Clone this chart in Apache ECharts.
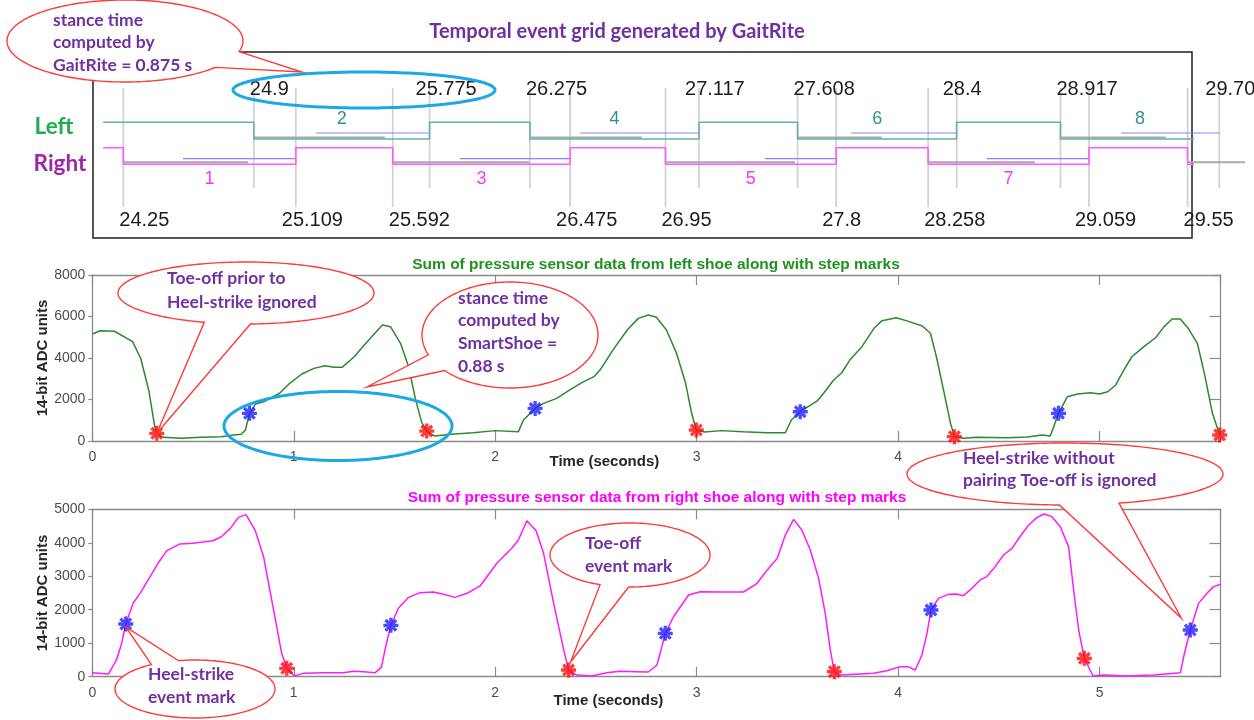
<!DOCTYPE html>
<html>
<head>
<meta charset="utf-8">
<title>Gait event detection: GaitRite vs SmartShoe</title>
<script src="https://cdn.jsdelivr.net/npm/echarts@6.0.0/dist/echarts.min.js"></script>
<style>
  html, body { margin: 0; padding: 0; background: #ffffff; }
  #chart { width: 1254px; height: 720px; }
</style>
</head>
<body>
<div id="chart"></div>
<script>
// ---------- GaitRite temporal events (seconds) ----------
const leftHeelStrikes  = [24.9, 26.275, 27.608, 28.917];
const leftToeOffs      = [25.775, 27.117, 28.4, 29.708];
const rightHeelStrikes = [24.25, 25.592, 26.95, 28.258, 29.55];
const rightToeOffs     = [25.109, 26.475, 27.8, 29.059];
const leftStepNumbers  = [2, 4, 6, 8];
const rightStepNumbers = [1, 3, 5, 7];
const gridTraceStart   = 24.149;
const rightTraceEnd    = 29.836;
// thin sub-phase bars under each stance, [start, end] in seconds
const leftBlueBars  = [[25.21, 25.775], [26.524, 27.117], [27.874, 28.4], [29.219, 29.708]];
const leftGrayBars  = [[24.9, 25.553], [26.275, 26.832], [27.608, 28.027], [28.917, 29.441]];
const rightBlueBars = [[24.547, 25.109], [25.927, 26.475], [27.446, 27.8], [28.55, 29.059]];
const rightGrayBars = [[24.25, 24.871], [25.592, 26.272], [26.95, 27.595], [28.258, 28.79], [29.55, 29.836]];

// ---------- SmartShoe: summed pressure, left shoe [time s, ADC] ----------
const leftPressure = [
  [0, 5160], [0.04, 5310], [0.11, 5290], [0.20, 4790], [0.24, 3990], [0.28, 2460], [0.31, 690], [0.32, 370],
  [0.35, 180], [0.44, 130], [0.54, 180], [0.64, 210], [0.70, 290], [0.74, 320], [0.76, 530], [0.78, 1335],
  [0.81, 1780], [0.85, 1890], [0.93, 2300], [0.98, 2780], [1.04, 3230], [1.10, 3500], [1.155, 3630], [1.20, 3550],
  [1.24, 3550], [1.30, 4060], [1.35, 4630], [1.395, 5110], [1.44, 5590], [1.48, 5510], [1.53, 4710], [1.57, 3580],
  [1.605, 1980], [1.635, 900], [1.66, 480], [1.70, 240], [1.78, 320], [1.89, 400], [2.00, 500], [2.115, 450],
  [2.14, 1010], [2.198, 1570], [2.24, 1815], [2.305, 2055], [2.37, 2460], [2.43, 2810], [2.49, 3100], [2.52, 3420],
  [2.585, 4390], [2.655, 5350], [2.71, 5910], [2.76, 6070], [2.80, 5960], [2.85, 5350], [2.90, 4225], [2.945, 2780],
  [2.975, 1335], [2.998, 530], [3.04, 435], [3.12, 500], [3.23, 450], [3.35, 400], [3.44, 400], [3.47, 1010],
  [3.514, 1410], [3.60, 1950], [3.63, 2300], [3.68, 2940], [3.72, 3290], [3.76, 3900], [3.82, 4545], [3.88, 5430],
  [3.92, 5800], [3.99, 5940], [4.04, 5800], [4.12, 5540], [4.16, 5190], [4.19, 4060], [4.225, 2460], [4.26, 850],
  [4.279, 210], [4.325, 130], [4.39, 180], [4.54, 160], [4.64, 195], [4.715, 290], [4.755, 240], [4.772, 690],
  [4.796, 1335], [4.84, 2135], [4.89, 2265], [4.955, 2330], [5.00, 2265], [5.04, 2375], [5.08, 2700], [5.12, 3420],
  [5.16, 4060], [5.22, 4545], [5.28, 5000], [5.32, 5510], [5.36, 5880], [5.40, 5880], [5.44, 5430], [5.485, 4710],
  [5.52, 3260], [5.56, 1335], [5.596, 290]
];
const leftHeelStrikeMarks = [[0.78, 1335], [2.198, 1570], [3.514, 1410], [4.796, 1335]];
const leftToeOffMarks     = [[0.32, 370], [1.66, 480], [2.998, 530], [4.279, 210], [5.596, 290]];

// ---------- SmartShoe: summed pressure, right shoe [time s, ADC] ----------
const rightPressure = [
  [0, 120], [0.08, 80], [0.12, 500], [0.146, 1000], [0.166, 1574], [0.204, 2210], [0.237, 2490], [0.287, 2990],
  [0.328, 3405], [0.37, 3765], [0.435, 3965], [0.50, 3985], [0.60, 4060], [0.64, 4180], [0.685, 4430], [0.725, 4760],
  [0.763, 4840], [0.808, 4380], [0.85, 3585], [0.90, 1990], [0.94, 700], [0.965, 250], [1.004, 20], [1.048, 100],
  [1.147, 120], [1.246, 120], [1.296, 160], [1.346, 150], [1.404, 120], [1.435, 280], [1.46, 1000], [1.482, 1535],
  [1.52, 2050], [1.57, 2370], [1.627, 2510], [1.693, 2530], [1.743, 2460], [1.80, 2370], [1.86, 2490], [1.925, 2710],
  [2.008, 3390], [2.082, 3835], [2.115, 4085], [2.157, 4660], [2.203, 4360], [2.24, 3685], [2.29, 2190], [2.34, 800],
  [2.364, 200], [2.405, 50], [2.48, 20], [2.554, 120], [2.62, 160], [2.703, 150], [2.76, 140], [2.803, 350],
  [2.827, 895], [2.844, 1296], [2.885, 1790], [2.96, 2440], [3.017, 2540], [3.117, 2530], [3.232, 2530], [3.30, 2790],
  [3.35, 3190], [3.40, 3535], [3.44, 4230], [3.481, 4700], [3.522, 4380], [3.564, 3785], [3.605, 2940], [3.638, 1894],
  [3.663, 800], [3.683, 150], [3.713, 50], [3.812, 80], [3.878, 100], [3.944, 180], [4.01, 300], [4.047, 300],
  [4.085, 200], [4.118, 650], [4.143, 1296], [4.163, 1992], [4.20, 2340], [4.25, 2460], [4.29, 2470], [4.324, 2420],
  [4.366, 2640], [4.407, 2890], [4.44, 2990], [4.481, 3285], [4.523, 3635], [4.565, 3835], [4.604, 4180], [4.648, 4530],
  [4.69, 4760], [4.725, 4860], [4.763, 4780], [4.805, 4480], [4.846, 3885], [4.871, 2590], [4.896, 1395], [4.924, 550],
  [4.967, 20], [5.02, 50], [5.128, 20], [5.268, 50], [5.401, 120], [5.421, 700], [5.45, 1395], [5.491, 2190],
  [5.533, 2490], [5.566, 2690], [5.60, 2760]
];
const rightHeelStrikeMarks = [[0.166, 1574], [1.482, 1535], [2.844, 1296], [4.163, 1992], [5.45, 1395]];
const rightToeOffMarks     = [[0.965, 250], [2.364, 200], [3.683, 150], [4.924, 550]];

// ---------- layout of the event grid (pixel offsets below the box top) ----------
const LEVEL = {
  leftHi: 70.3, leftLo: 87, rightHi: 95.7, rightLo: 112.3,
  leftBlue: 81, leftGray: 85.5, rightBlue: 106.7, rightGray: 110.2,
  eventTop: 36, eventBotLeft: 136, eventBotRight: 155,
  labelTop: 37, labelBot: 168, numLeft: 67, numRight: 127
};

const TEAL = '#62b3aa', TEAL_TEXT = '#2f928a', PINK = '#ff5cff', PINK_TEXT = '#ff33ff';
const PURPLE = '#7030a0';
const AXIS_GRAY = '#8a8a8a', TICK_TEXT = '#4d4d4d';
// eight-spoke asterisk marker
const STAR = 'path://M-2.2,-10L2.2,-10L2.2,10L-2.2,10Z M-10,-2.2L10,-2.2L10,2.2L-10,2.2Z ' +
  'M-8.63,-5.51L-5.51,-8.63L8.63,5.51L5.51,8.63Z M-5.51,8.63L-8.63,5.51L5.51,-8.63L8.63,-5.51Z';

function stepTrace(heel, toe, start, end, hi, lo) {
  const ev = heel.map(t => [t, lo]).concat(toe.map(t => [t, hi])).sort((a, b) => a[0] - b[0]);
  let lvl = hi;
  const pts = [[start, hi]];
  ev.forEach(([t, l]) => { pts.push([t, lvl]); pts.push([t, l]); lvl = l; });
  if (end > pts[pts.length - 1][0]) pts.push([end, lvl]);
  return pts;
}

// event rows: [time, row (0 left / 1 right), kind (0 heel-strike / 1 toe-off)]
const eventData = []
  .concat(leftHeelStrikes.map(t => [t, 0, 0]), leftToeOffs.map(t => [t, 0, 1]))
  .concat(rightHeelStrikes.map(t => [t, 1, 0]), rightToeOffs.map(t => [t, 1, 1]));

// bars: [start, end, row, kind (0 blue / 1 gray)]
const barData = []
  .concat(leftBlueBars.map(b => [b[0], b[1], 0, 0]), leftGrayBars.map(b => [b[0], b[1], 0, 1]))
  .concat(rightBlueBars.map(b => [b[0], b[1], 1, 0]), rightGrayBars.map(b => [b[0], b[1], 1, 1]));

// step numbers centred on each stance interval
const stepData = []
  .concat(leftStepNumbers.map((n, i) => [(leftHeelStrikes[i] + leftToeOffs[i]) / 2, 0, n]))
  .concat(rightStepNumbers.map((n, i) => [(rightHeelStrikes[i] + rightToeOffs[i]) / 2, 1, n]));

const chart = echarts.init(document.getElementById('chart'), null, { renderer: 'canvas' });

const plain = v => String(v);
const axisLine = () => ({ show: true, onZero: false, lineStyle: { color: AXIS_GRAY, width: 1.3 } });

function timeAxisBottom(gridIndex, nameGap, shift) {
  return {
    type: 'value', gridIndex, position: 'bottom', min: 0, max: 5.6, interval: 1,
    axisLine: axisLine(),
    axisTick: { show: true, inside: true, length: 10, lineStyle: { color: AXIS_GRAY, width: 1.2 } },
    axisLabel: { show: true, color: TICK_TEXT, fontSize: 14, fontFamily: 'Liberation Sans', margin: 9,
      showMaxLabel: false, formatter: plain },
    splitLine: { show: false },
    name: 'Time (seconds)', nameLocation: 'middle', nameGap, nameMoveOverlap: false,
    nameTextStyle: { fontFamily: 'Liberation Sans', fontWeight: 'bold', fontSize: 15, color: '#262626',
      padding: [0, shift * 2, 0, 0] }
  };
}
function timeAxisTop(gridIndex) {
  return {
    type: 'value', gridIndex, position: 'top', min: 0, max: 5.6, interval: 1,
    axisLine: axisLine(),
    axisTick: { show: true, inside: true, length: 10, lineStyle: { color: AXIS_GRAY, width: 1.2 } },
    axisLabel: { show: false }, splitLine: { show: false }
  };
}
function adcAxisLeft(gridIndex, max, interval) {
  return {
    type: 'value', gridIndex, position: 'left', min: 0, max, interval,
    axisLine: axisLine(),
    axisTick: { show: true, inside: false, length: 4, lineStyle: { color: AXIS_GRAY, width: 1.2 } },
    axisLabel: { show: true, color: TICK_TEXT, fontSize: 14, fontFamily: 'Liberation Sans', margin: 7, formatter: plain },
    splitLine: { show: false },
    name: '14-bit ADC units', nameLocation: 'middle', nameGap: 42, nameMoveOverlap: false,
    nameTextStyle: { fontFamily: 'Liberation Sans', fontWeight: 'bold', fontSize: 15, color: '#262626' }
  };
}
function adcAxisRight(gridIndex, max, interval) {
  return {
    type: 'value', gridIndex, position: 'right', min: 0, max, interval,
    axisLine: axisLine(),
    axisTick: { show: true, inside: true, length: 11, lineStyle: { color: AXIS_GRAY, width: 1.2 } },
    axisLabel: { show: false }, splitLine: { show: false }
  };
}

const option = {
  animation: false,
  backgroundColor: '#ffffff',
  grid: [
    { left: 93, top: 52, width: 1099, height: 186, show: true, borderColor: '#1f1f1f', borderWidth: 1.5,
      backgroundColor: 'transparent', outerBoundsMode: 'none' },
    { left: 92.3, top: 275, width: 1128.2, height: 166, outerBoundsMode: 'none' },
    { left: 92.3, top: 509.3, width: 1128.2, height: 167.4, outerBoundsMode: 'none' }
  ],
  xAxis: [
    { type: 'value', gridIndex: 0, min: 24.099, max: 29.572, show: false },
    timeAxisBottom(1, 13, 52), timeAxisTop(1),
    timeAxisBottom(2, 16.5, 48), timeAxisTop(2)
  ],
  yAxis: [
    { type: 'value', gridIndex: 0, min: 0, max: 186, inverse: true, show: false },
    adcAxisLeft(1, 8000, 2000), adcAxisRight(1, 8000, 2000),
    adcAxisLeft(2, 5000, 1000), adcAxisRight(2, 5000, 1000)
  ],
  series: [
    // vertical event lines with their time labels
    {
      type: 'custom', name: 'events', xAxisIndex: 0, yAxisIndex: 0, z: 1, clip: false,
      data: eventData,
      renderItem: (params, api) => {
        const t = api.value(0), row = api.value(1), kind = api.value(2);
        const p0 = api.coord([t, LEVEL.eventTop]);
        const p1 = api.coord([t, row === 0 ? LEVEL.eventBotLeft : LEVEL.eventBotRight]);
        const pl = api.coord([t, row === 0 ? LEVEL.labelTop : LEVEL.labelBot]);
        return {
          type: 'group',
          children: [
            { type: 'line', shape: { x1: p0[0], y1: p0[1], x2: p1[0], y2: p1[1] },
              style: { stroke: '#d3d3d3', lineWidth: 1.8 } },
            { type: 'text', x: pl[0] + (kind === 0 ? -4 : -14), y: pl[1], z2: 10,
              style: { text: String(t), fill: '#1c1c1c', font: '20px "Liberation Sans", Arial, sans-serif',
                align: 'left', verticalAlign: 'middle' } }
          ]
        };
      }
    },
    // thin blue / gray sub-phase bars
    {
      type: 'custom', name: 'bars', xAxisIndex: 0, yAxisIndex: 0, z: 2, clip: false,
      data: barData,
      renderItem: (params, api) => {
        const row = api.value(2), kind = api.value(3);
        const y = row === 0 ? (kind === 0 ? LEVEL.leftBlue : LEVEL.leftGray)
                            : (kind === 0 ? LEVEL.rightBlue : LEVEL.rightGray);
        const a = api.coord([api.value(0), y]), b = api.coord([api.value(1), y]);
        return { type: 'line', shape: { x1: a[0], y1: a[1], x2: b[0], y2: b[1] },
          style: kind === 0 ? { stroke: '#8585ff', lineWidth: 1.2 } : { stroke: '#a9a9a9', lineWidth: 2 } };
      }
    },
    {
      type: 'line', name: 'Left', xAxisIndex: 0, yAxisIndex: 0, z: 3, clip: false,
      data: stepTrace(leftHeelStrikes, leftToeOffs, gridTraceStart, leftToeOffs[leftToeOffs.length - 1],
        LEVEL.leftHi, LEVEL.leftLo),
      showSymbol: false, symbol: 'none', lineStyle: { color: TEAL, width: 1.6 }
    },
    {
      type: 'line', name: 'Right', xAxisIndex: 0, yAxisIndex: 0, z: 3, clip: false,
      data: stepTrace(rightHeelStrikes, rightToeOffs, gridTraceStart, rightTraceEnd,
        LEVEL.rightHi, LEVEL.rightLo),
      showSymbol: false, symbol: 'none', lineStyle: { color: PINK, width: 1.6 }
    },
    // step numbers
    {
      type: 'custom', name: 'steps', xAxisIndex: 0, yAxisIndex: 0, z: 4, clip: false,
      data: stepData,
      renderItem: (params, api) => {
        const row = api.value(1);
        const p = api.coord([api.value(0), row === 0 ? LEVEL.numLeft : LEVEL.numRight]);
        return { type: 'text', x: p[0], y: p[1],
          style: { text: String(api.value(2)), fill: row === 0 ? TEAL_TEXT : PINK_TEXT,
            font: '18px "Liberation Sans", Arial, sans-serif', align: 'center', verticalAlign: 'middle' } };
      }
    },
    // left shoe
    {
      type: 'line', name: 'left shoe', xAxisIndex: 1, yAxisIndex: 1, z: 2,
      data: leftPressure, showSymbol: false, symbol: 'none',
      lineStyle: { color: '#2b8a2b', width: 1.5 }
    },
    { type: 'scatter', name: 'left heel-strike', xAxisIndex: 1, yAxisIndex: 1, z: 5,
      data: leftHeelStrikeMarks, symbol: STAR, symbolSize: 15, itemStyle: { color: '#1f1fff' } },
    { type: 'scatter', name: 'left toe-off', xAxisIndex: 1, yAxisIndex: 1, z: 5,
      data: leftToeOffMarks, symbol: STAR, symbolSize: 15, itemStyle: { color: '#ff0a0a' } },
    // right shoe
    {
      type: 'line', name: 'right shoe', xAxisIndex: 3, yAxisIndex: 3, z: 2,
      data: rightPressure, showSymbol: false, symbol: 'none',
      lineStyle: { color: '#ff1aff', width: 1.5 }
    },
    { type: 'scatter', name: 'right heel-strike', xAxisIndex: 3, yAxisIndex: 3, z: 5,
      data: rightHeelStrikeMarks, symbol: STAR, symbolSize: 15, itemStyle: { color: '#1f1fff' } },
    { type: 'scatter', name: 'right toe-off', xAxisIndex: 3, yAxisIndex: 3, z: 5,
      data: rightToeOffMarks, symbol: STAR, symbolSize: 15, itemStyle: { color: '#ff0a0a' } }
  ]
};

chart.setOption(option);

// ---------- annotations ----------
const CALLOUT_FONT = 'bold 17.5px Lato, "Open Sans", sans-serif';
function ellipsePoints(cx, cy, rx, ry, a0, a1, n) {
  const pts = [];
  for (let i = 0; i <= n; i++) {
    const a = (a0 + (a1 - a0) * i / n) * Math.PI / 180;
    pts.push([cx + rx * Math.cos(a), cy + ry * Math.sin(a)]);
  }
  return pts;
}
function px(grid, pt) {
  return chart.convertToPixel({ xAxisIndex: grid === 1 ? 1 : 3, yAxisIndex: grid === 1 ? 1 : 3 }, pt);
}
function offset(p, dx, dy) { return [p[0] + dx, p[1] + dy]; }

const callouts = [
  { cx: 125, cy: 41, rx: 118, ry: 41, wedge: [15, 40], tip: [302, 72],
    text: ['stance time', 'computed by', 'GaitRite = 0.875 s'], tx: 53, ty: 20, lh: 22.5 },
  { cx: 246, cy: 293, rx: 128, ry: 31, wedge: [88, 109], tip: px(1, leftToeOffMarks[0]),
    text: ['Toe-off prior to', 'Heel-strike ignored'], tx: 167, ty: 278, lh: 24 },
  { cx: 510, cy: 335, rx: 88, ry: 53, wedge: [138, 158], tip: [367, 387],
    text: ['stance time', 'computed by', 'SmartShoe =', '0.88 s'], tx: 458, ty: 298, lh: 22.7 },
  { cx: 1065, cy: 474, rx: 158, ry: 31, wedge: [70, 92],
    tip: offset(px(2, rightHeelStrikeMarks[4]), -9, -12),
    text: ['Heel-strike without', 'pairing Toe-off is ignored'], tx: 963, ty: 458, lh: 22.5 },
  { cx: 630, cy: 555, rx: 80, ry: 32, wedge: [91, 112], tip: offset(px(2, rightToeOffMarks[1]), 2, -8),
    text: ['Toe-off', 'event mark'], tx: 585, ty: 543, lh: 23 },
  { cx: 195, cy: 689, rx: 80, ry: 29, wedge: [237, 258], tip: offset(px(2, rightHeelStrikeMarks[0]), 0, 3),
    text: ['Heel-strike', 'event mark'], tx: 148, ty: 674, lh: 23 }
];

const elements = [
  { type: 'text', x: 617, y: 32, z: 50,
    style: { text: 'Temporal event grid generated by GaitRite', fill: PURPLE,
      font: 'bold 20px Lato, sans-serif', align: 'center', verticalAlign: 'middle' } },
  { type: 'text', x: 54, y: 127, z: 50,
    style: { text: 'Left', fill: '#22ac4a', font: 'bold 22.5px Lato, sans-serif', align: 'center', verticalAlign: 'middle' } },
  { type: 'text', x: 60, y: 164, z: 50,
    style: { text: 'Right', fill: '#9c27a8', font: 'bold 22.5px Lato, sans-serif', align: 'center', verticalAlign: 'middle' } },
  { type: 'text', x: 656, y: 265, z: 50,
    style: { text: 'Sum of pressure sensor data from left shoe along with step marks', fill: '#1d951d',
      font: 'bold 15.5px "Liberation Sans", Arial, sans-serif', align: 'center', verticalAlign: 'middle' } },
  { type: 'text', x: 657, y: 498, z: 50,
    style: { text: 'Sum of pressure sensor data from right shoe along with step marks', fill: '#ff00ff',
      font: 'bold 15.5px "Liberation Sans", Arial, sans-serif', align: 'center', verticalAlign: 'middle' } },
  // highlight rings
  { type: 'polygon', z: 60, shape: { points: ellipsePoints(364, 90, 131, 18, 0, 360, 180) },
    style: { fill: null, stroke: '#1aa8e6', lineWidth: 3 } },
  { type: 'polygon', z: 60, shape: { points: ellipsePoints(338, 426, 114, 34.5, 0, 360, 180) },
    style: { fill: null, stroke: '#1aa8e6', lineWidth: 3 } }
];

callouts.forEach(c => {
  const pts = ellipsePoints(c.cx, c.cy, c.rx, c.ry, c.wedge[1], c.wedge[0] + 360, 200);
  pts.push(c.tip);
  elements.push({ type: 'polygon', z: 70, shape: { points: pts },
    style: { fill: '#ffffff', stroke: '#ff3a3a', lineWidth: 1.4 } });
  c.text.forEach((line, i) => {
    elements.push({ type: 'text', x: c.tx, y: c.ty + i * c.lh, z: 71,
      style: { text: line, fill: PURPLE, font: CALLOUT_FONT, align: 'left', verticalAlign: 'middle' } });
  });
});

chart.setOption({ graphic: { elements } });
</script>
</body>
</html>
